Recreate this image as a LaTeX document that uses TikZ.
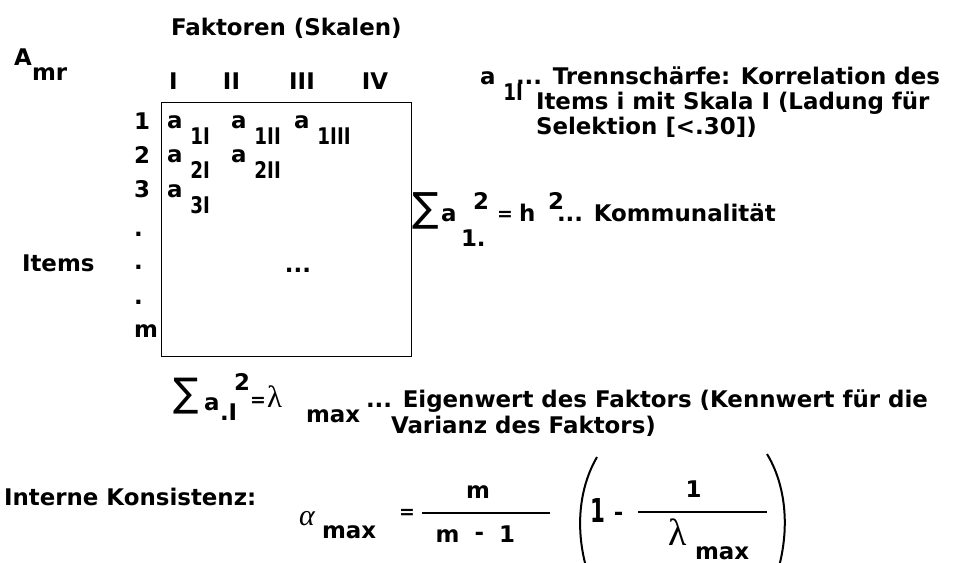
\documentclass[tikz,border=0pt]{standalone}
\usepackage{fontspec}
\setmainfont{DejaVu Sans}
\newfontfamily\gserif{Liberation Serif}
\usepackage{graphicx}
\newcommand\lowr[1]{\raisebox{-16bp}{\scalebox{0.8}[1]{#1}}}
\begin{document}
\begin{tikzpicture}[x=1bp,y=-1bp,
  t/.style={anchor=base west, inner sep=0pt, outer sep=0pt, font=\fontsize{23}{25}\selectfont\bfseries},
  tc/.style={t, anchor=base},
  eqs/.style={t, font=\fontsize{19}{19}\selectfont\bfseries},
  greek/.style={anchor=base west, inner sep=0pt, outer sep=0pt, font=\gserif\fontsize{31}{31}\selectfont},
  sumsym/.style={inner sep=0pt, outer sep=0pt, font=\fontsize{36}{36}\selectfont},
  rule/.style={line width=1.5bp},
  paren/.style={line width=2bp}]
\useasboundingbox (0,0) rectangle (979,563);
\clip (0,0) rectangle (979,563);

% header
\node[t] (fak) at (171,36) {Faktoren (Skalen)};
\node[t] (A) at (14,66) {A};
\node[t] (mr) at (32,81) {mr};
\node[tc] (c1) at (173.5,90) {I};
\node[tc] (c2) at (231.5,90) {II};
\node[tc] (c3) at (302,90) {III};
\node[tc] (c4) at (375,90) {IV};

% matrix box
\node[draw, line width=1.3bp, anchor=north west, minimum width=250bp, minimum height=254bp, inner sep=0pt] (mat) at (161,102) {};

% row labels
\node[t] (r1) at (134,130) {1};
\node[t] (r2) at (134,164) {2};
\node[t] (r3) at (134,198) {3};
\node[t] (d1) at (134,237) {.};
\node[t] (d2) at (134,270) {.};
\node[t] (d3) at (134,304) {.};
\node[t] (rm) at (134,337) {m};
\node[t] (items) at (22,272) {Items};

% entries
\node[t] (e11) at (167,129) {a~\lowr{1I}};
\node[t] (e12) at (231,129) {a~\lowr{1II}};
\node[t] (e13) at (294,129) {a~\lowr{1III}};
\node[t] (e21) at (167,163) {a~\lowr{2I}};
\node[t] (e22) at (231,163) {a~\lowr{2II}};
\node[t] (e31) at (167,198) {a~\lowr{3I}};
\node[tc] (mdots) at (298,273) {...};

% Kommunalitaet
\node[sumsym] (s1) at (426,211) {\scalebox{1.1}[1.12]{∑}};
\node[t] (ka) at (441,222) {a};
\node[t] (ksub) at (461,247) {1.};
\node[t] (ksup) at (473,210) {2};
\node[eqs] (keq) at (497,221) {=};
\node[t] (kh) at (519,222) {h};
\node[t] (ksup2) at (548,210) {2};
\node[t] (kom) at (557,222) {... Kommunalität};

% Trennschaerfe
\node[t] (ta) at (480,85) {a~\lowr{1I}};
\node[t] (tr1) at (516,85) {... Trennschärfe: Korrelation des};
\node[t] (tr2) at (536,110) {Items i mit Skala I (Ladung für};
\node[t] (tr3) at (536,135) {Selektion [<.30])};

% Eigenwert
\node[sumsym] (s2) at (186.5,396) {\scalebox{1.05}[1.1]{∑}};
\node[t] (ea) at (204,410) {a};
\node[t] (esub) at (220,420) {.I};
\node[t] (esup) at (234,390) {2};
\node[eqs] (eeq) at (250,406) {=};
\node[greek] (elam) at (267,407) {λ};
\node[t] (emax) at (306,422) {max};
\node[t] (eig) at (366,407) {... Eigenwert des Faktors (Kennwert für die};
\node[t] (var) at (391,433) {Varianz des Faktors)};

% Interne Konsistenz
\node[t] (ik) at (4,505) {Interne Konsistenz:};
\node[anchor=base west, inner sep=0pt, font=\gserif\itshape\fontsize{30}{30}\selectfont] (alpha) at (299,525) {α};
\node[t] (amax) at (322,538) {max};
\node[eqs] (aeq) at (399,518) {=};
\coordinate (f1l) at (422,513);
\coordinate (f1r) at (550,513);
\draw[rule] (f1l) -- (f1r);
\node[tc] (num1) at (478,498) {m};
\node[tc] (den1m) at (447.5,542) {m};
\node[tc] (den1h) at (479.5,540) {-};
\node[tc] (den1o) at (507,542) {1};

\draw[paren] (597,457) .. controls (575,495) and (575,545) .. (594,590);
\node[anchor=base west, inner sep=0pt, font=\fontsize{33}{33}\selectfont\bfseries] (one) at (590,522) {\scalebox{0.65}[1]{1}};
\node[tc] (minus) at (618.5,520) {-};
\coordinate (f2l) at (638,512);
\coordinate (f2r) at (767,512);
\draw[rule] (f2l) -- (f2r);
\node[tc] (num2) at (693.5,497) {1};
\node[greek, font=\gserif\fontsize{38}{38}\selectfont] (lam2) at (668,545) {λ};
\node[t] (max2) at (695,559) {max};
\draw[paren] (767,454) .. controls (790,492) and (790,545) .. (771,590);
\end{tikzpicture}
\end{document}
